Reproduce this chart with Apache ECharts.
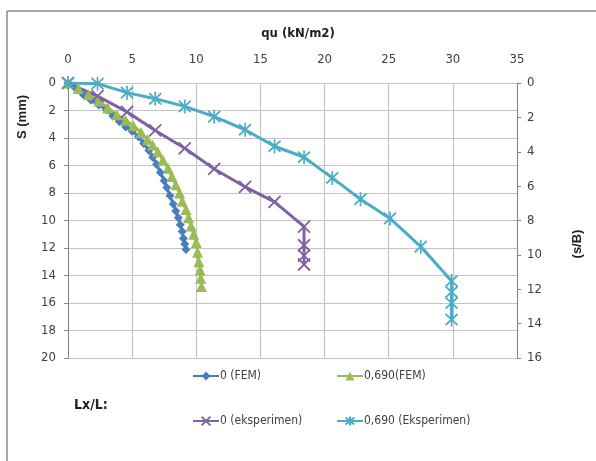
<!DOCTYPE html>
<html>
<head>
<meta charset="utf-8">
<script src="https://cdn.jsdelivr.net/npm/echarts@6/dist/echarts.min.js"></script>
<style>
  html, body { margin: 0; padding: 0; background: #ffffff; }
  #chart { width: 596px; height: 461px; }
</style>
</head>
<body>
<div id="chart"></div>
<script>
// Bearing pressure qu (kN/m2) against settlement S (mm)
const seriesNames = ['0 (FEM)', '0,690(FEM)', '0 (eksperimen)', '0,690 (Eksperimen)'];

// 0 (FEM)
const femA_q = [0, 0.6, 1.2, 1.8, 2.4, 3.0, 3.5, 4.0, 4.5, 5.0, 5.5, 5.9, 6.3, 6.6, 6.9, 7.2, 7.5, 7.7, 7.95, 8.2, 8.4, 8.6, 8.75, 8.9, 9.0, 9.1, 9.2];
const femA_s = [0, 0.4, 0.85, 1.25, 1.6, 1.95, 2.4, 2.8, 3.2, 3.5, 3.9, 4.4, 4.9, 5.4, 5.9, 6.5, 7.1, 7.6, 8.2, 8.8, 9.3, 9.8, 10.3, 10.8, 11.3, 11.7, 12.1];

// 0,690 (FEM)
const femB_q = [0, 0.8, 1.6, 2.4, 3.1, 3.8, 4.5, 5.1, 5.7, 6.2, 6.6, 7.0, 7.4, 7.8, 8.1, 8.4, 8.7, 8.9, 9.2, 9.4, 9.6, 9.8, 10.0, 10.1, 10.2, 10.3, 10.35, 10.4];
const femB_s = [0, 0.4, 0.85, 1.3, 1.8, 2.3, 2.7, 3.1, 3.6, 4.1, 4.5, 5.0, 5.6, 6.2, 6.8, 7.4, 8.0, 8.6, 9.2, 9.8, 10.4, 11.0, 11.6, 12.3, 13.0, 13.6, 14.2, 14.8];

// 0 (eksperimen)
const expA_q = [0, 2.3, 4.6, 6.8, 9.1, 11.4, 13.8, 16.1, 18.4, 18.4, 18.4, 18.4];
const expA_s = [0, 0.95, 2.1, 3.45, 4.75, 6.25, 7.55, 8.65, 10.45, 11.8, 12.55, 13.2];

// 0,690 (Eksperimen)
const expB_q = [0, 2.3, 4.6, 6.8, 9.1, 11.4, 13.8, 16.1, 18.4, 20.6, 22.8, 25.1, 27.5, 29.9, 29.9, 29.9, 29.9];
const expB_s = [0, 0.05, 0.7, 1.15, 1.7, 2.45, 3.4, 4.6, 5.4, 6.9, 8.45, 9.85, 11.9, 14.4, 15.2, 16.0, 17.2];

// Axis ranges
const qTicks = { min: 0, max: 35, interval: 5 };
const sTicks = { min: 0, max: 20, interval: 2 };
const sbTicks = { min: 0, max: 16, interval: 2 };

const pairs = (xs, ys) => xs.map((x, i) => [x, ys[i]]);

const FONT = '"Liberation Sans Narrow", "DejaVu Sans Condensed", sans-serif';
const BOLD_FONT = '"Liberation Sans", Arial, sans-serif';
const AXIS_GREY = '#868686';
const GRID_GREY = '#c4c4c4';
const TEXT = '#404040';

const C_BLUE = '#4a7ebb';
const C_GREEN = '#9bbb59';
const C_PURPLE = '#7f62a1';
const C_CYAN = '#4bacc6';

const CROSS = 'path://M0,0L10,10M10,0L0,10';
const STAR = 'path://M1,1L9,9M9,1L1,9M5,0L5,10';

const chart = echarts.init(document.getElementById('chart'), null, { renderer: 'canvas' });

const legendItem = (name, left, top) => ({
  data: [name],
  left: left, top: top,
  itemWidth: 26, itemHeight: 11,
  textStyle: { fontFamily: FONT, fontSize: 12, color: TEXT, padding: [0, 0, 0, -4] },
  selectedMode: false
});

chart.setOption({
  animation: false,
  backgroundColor: '#ffffff',
  grid: { left: 68, right: 79, top: 83, bottom: 103 },
  xAxis: {
    type: 'value',
    position: 'top',
    min: qTicks.min, max: qTicks.max, interval: qTicks.interval,
    axisLine: { show: false },
    axisTick: { show: false },
    axisLabel: { fontFamily: FONT, fontSize: 13, color: TEXT, margin: 17 },
    splitLine: { show: true, lineStyle: { color: GRID_GREY, width: 1.2 } }
  },
  yAxis: [
    {
      type: 'value',
      inverse: true,
      position: 'left',
      min: sTicks.min, max: sTicks.max, interval: sTicks.interval,
      axisLine: { show: true, lineStyle: { color: AXIS_GREY, width: 1 } },
      axisTick: { show: true, length: 4, lineStyle: { color: AXIS_GREY } },
      axisLabel: { fontFamily: FONT, fontSize: 13, color: TEXT, margin: 12 },
      splitLine: { show: true, lineStyle: { color: GRID_GREY, width: 1.2 } }
    },
    {
      type: 'value',
      inverse: true,
      position: 'right',
      min: sbTicks.min, max: sbTicks.max, interval: sbTicks.interval,
      axisLine: { show: true, lineStyle: { color: AXIS_GREY, width: 1 } },
      axisTick: { show: true, length: 4, lineStyle: { color: AXIS_GREY } },
      axisLabel: { fontFamily: FONT, fontSize: 13, color: TEXT, margin: 10 },
      splitLine: { show: false }
    }
  ],
  legend: [
    legendItem(seriesNames[0], 187, 365),
    legendItem(seriesNames[1], 331, 365),
    legendItem(seriesNames[2], 187, 410),
    legendItem(seriesNames[3], 331, 410)
  ],
  series: [
    {
      name: seriesNames[0], type: 'line', yAxisIndex: 0,
      data: pairs(femA_q, femA_s),
      symbol: 'diamond', symbolSize: 9,
      color: C_BLUE,
      itemStyle: { color: C_BLUE, borderWidth: 0 },
      lineStyle: { color: C_BLUE, width: 3 }
    },
    {
      name: seriesNames[1], type: 'line', yAxisIndex: 0,
      data: pairs(femB_q, femB_s),
      symbol: 'triangle', symbolSize: 11,
      color: C_GREEN,
      itemStyle: { color: C_GREEN, borderWidth: 0 },
      lineStyle: { color: C_GREEN, width: 3 }
    },
    {
      name: seriesNames[2], type: 'line', yAxisIndex: 0,
      data: pairs(expA_q, expA_s),
      symbol: CROSS, symbolSize: 12,
      color: C_PURPLE,
      itemStyle: { color: C_PURPLE, borderColor: C_PURPLE, borderWidth: 1.8 },
      lineStyle: { color: C_PURPLE, width: 3 }
    },
    {
      name: seriesNames[3], type: 'line', yAxisIndex: 0,
      data: pairs(expB_q, expB_s),
      symbol: STAR, symbolSize: [12, 14],
      color: C_CYAN,
      itemStyle: { color: C_CYAN, borderColor: C_CYAN, borderWidth: 1.8 },
      lineStyle: { color: C_CYAN, width: 3 }
    }
  ],
  graphic: [
    { type: 'line', shape: { x1: 7, y1: 11, x2: 596, y2: 11 }, style: { stroke: '#8a8a8a', lineWidth: 1.5 } },
    { type: 'line', shape: { x1: 7, y1: 11, x2: 7, y2: 461 }, style: { stroke: '#8a8a8a', lineWidth: 1.5 } },
    {
      type: 'text', left: 'center', top: 27,
      style: { text: 'qu (kN/m2)', font: 'bold 13px ' + FONT, fill: '#222222' }
    },
    {
      type: 'text', x: 22, y: 117, rotation: Math.PI / 2,
      style: { text: 'S (mm)', font: 'bold 13px ' + BOLD_FONT, fill: '#222222', align: 'center', verticalAlign: 'middle' }
    },
    {
      type: 'text', x: 577, y: 244, rotation: Math.PI / 2,
      style: { text: '(s/B)', font: 'bold 13px ' + BOLD_FONT, fill: '#222222', align: 'center', verticalAlign: 'middle' }
    },
    {
      type: 'text', x: 74, y: 405,
      style: { text: 'Lx/L:', font: 'bold 14px ' + FONT, fill: '#222222', verticalAlign: 'middle' }
    }
  ]
});
</script>
</body>
</html>
